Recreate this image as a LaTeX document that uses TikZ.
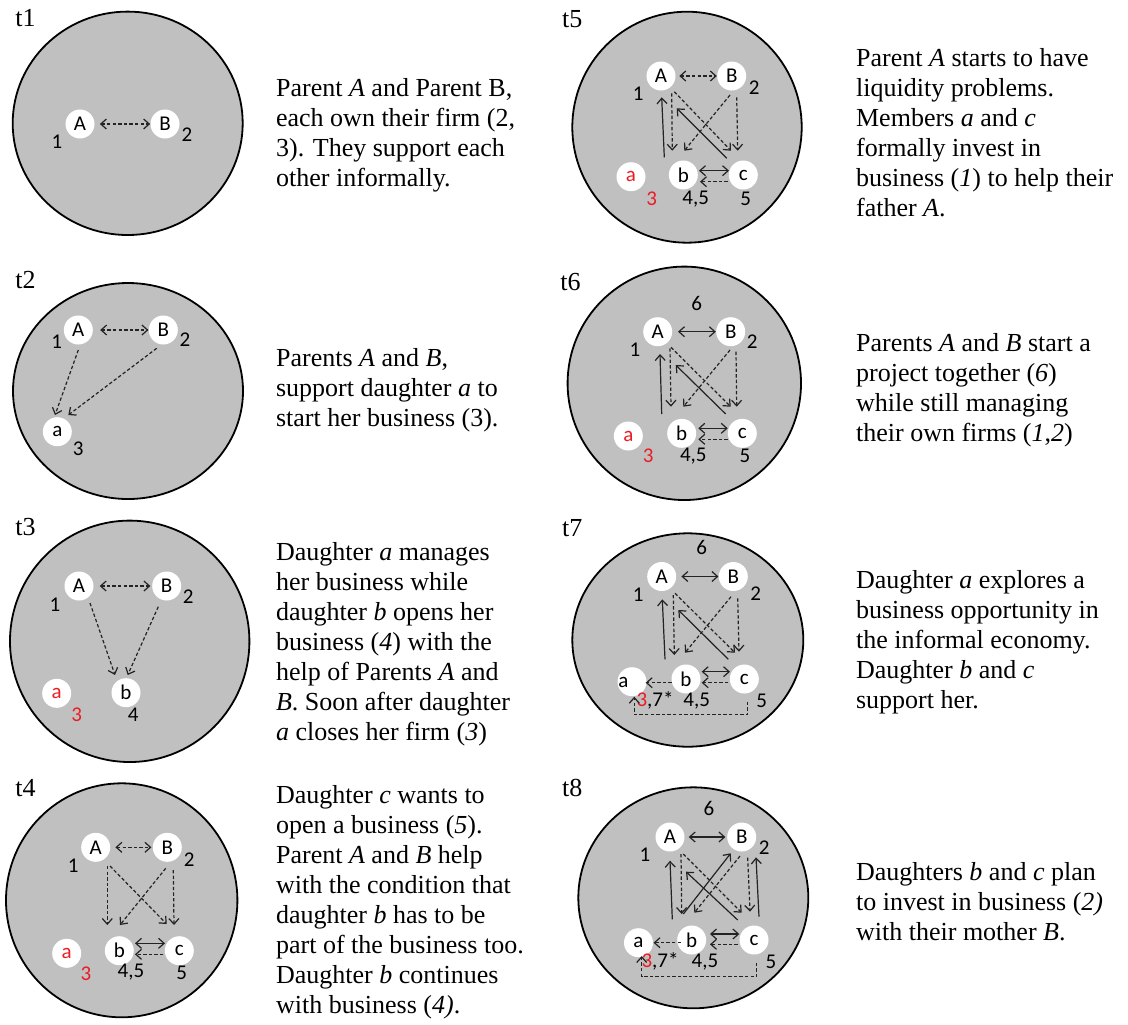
\documentclass[tikz,border=0pt]{standalone}
\usepackage{fontspec}
\setmainfont{Liberation Serif}
\newfontfamily\nodefont{Carlito}
\usetikzlibrary{arrows.meta}

\definecolor{fieldgray}{RGB}{192,192,192}
\definecolor{inkgray}{RGB}{35,35,35}
\definecolor{markred}{RGB}{235,28,36}

\begin{document}
\begin{tikzpicture}[x=0.5pt,y=-0.5pt,
  >={Straight Barb[length=2.8pt,width=5pt]},
  field/.style={draw=black,line width=0.9pt,fill=fieldgray},
  member/.style={circle,fill=white,minimum size=14.5pt,inner sep=0pt,
    font=\nodefont\fontsize{10.5}{12}\selectfont},
  num/.style={inner sep=0pt,font=\nodefont\fontsize{10.5}{12}\selectfont},
  tag/.style={anchor=base west,inner sep=0pt,font=\fontsize{13}{15}\selectfont},
  % multi-line notes are placed by the baseline of their last line
  story/.style={anchor=base west,inner sep=0pt,align=left,
    font=\fontsize{13}{15}\selectfont},
  tie/.style={draw=inkgray,line width=0.6pt},
  informal/.style={tie,dash pattern=on 1.7pt off 1.1pt},
]
\fill[white] (0,0) rectangle (1128,1024);
\useasboundingbox (0,0) rectangle (1128,1024);

% ---------------- t1 ----------------
\node[tag] (tag1) at (15,26.7) {t1};
\draw[field] (127.7,123.3) ellipse [x radius=115, y radius=111.7];
\node[member] (A1) at (80,124) {A};
\node[member] (B1) at (165,124) {B};
\node[num] (n1a) at (57,142) {1};
\node[num] (n1b) at (187,135) {2};
\draw[informal,<->,shorten <=2.5pt] (A1) -- (B1);
\node[story] (s1) at (275.7,186.7) {Parent \textit{A} and Parent B,\\each own their firm (2,\\3). They support each\\other informally.};

% ---------------- t2 ----------------
\node[tag] (tag2) at (15,288.3) {t2};
\draw[field] (128,391) ellipse [x radius=115, y radius=108];
\node[member] (A2) at (78.3,330) {A};
\node[member] (B2) at (163.3,330) {B};
\node[member] (a2) at (57.3,431.7) {a};
\node[num] (n2a) at (56.7,341.7) {1};
\node[num] (n2b) at (185,340) {2};
\node[num] (n2c) at (78.3,448.3) {3};
\draw[informal,<->,shorten <=3.5pt] (A2) -- (B2);
\draw[informal,->] ([shift={(0,20)}]A2.center) -- ([shift={(-2.3,-16.7)}]a2.center);
\draw[informal,->] ([shift={(-6.6,18.3)}]B2.center) -- ([shift={(11,-16.7)}]a2.center);
\node[story] (s2) at (275.7,426.7) {Parents \textit{A} and \textit{B},\\support daughter \textit{a} to\\start her business (3).};

% ---------------- t3 ----------------
\node[tag] (tag3) at (15,535) {t3};
\draw[field] (129.7,641.3) ellipse [x radius=119.7, y radius=120.7];
\node[member] (A3) at (79,586) {A};
\node[member] (B3) at (166.7,586) {B};
\node[member,text=markred] (a3) at (56.7,693.3) {a};
\node[member] (b3) at (126,692.7) {b};
\node[num] (n3a) at (55,605) {1};
\node[num] (n3b) at (188.3,596.7) {2};
\node[num,text=markred] (n3c) at (76.7,715) {3};
\node[num] (n3d) at (133.3,715) {4};
\draw[informal,<->,shorten <=2.9pt,shorten >=0.7pt] (A3) -- (B3);
\draw[informal,->] ([shift={(11,17)}]A3.center) -- ([shift={(-11,-17.7)}]b3.center);
\draw[informal,->] ([shift={(-8.4,20.7)}]B3.center) -- ([shift={(1.7,-17.7)}]b3.center);
\node[story] (s3) at (275.7,740) {Daughter \textit{a} manages\\her business while\\daughter \textit{b} opens her\\business (\textit{4}) with the\\help of Parents \textit{A} and\\\textit{B}. Soon after daughter\\\textit{a} closes her firm (\textit{3})};

% ---------------- t4 ----------------
\node[tag] (tag4) at (15,796.7) {t4};
\draw[field] (121.7,900.3) ellipse [x radius=115.7, y radius=117];
\node[member] (A4) at (95.7,847.3) {A};
\node[member] (B4) at (167.3,847.3) {B};
\node[member,text=markred] (a4) at (66.7,953.3) {a};
\node[member] (b4) at (119.3,950.7) {b};
\node[member] (c4) at (179.3,950.7) {c};
\node[num] (n4a) at (73.3,866) {1};
\node[num] (n4b) at (189.3,860) {2};
\node[num,text=markred] (n4c) at (86,973.3) {3};
\node[num] (n4d) at (131,971.7) {4,5};
\node[num] (n4e) at (181.7,973.3) {5};
\draw[informal,<->,shorten <=2.4pt,shorten >=0.5pt] (A4) -- (B4);
\draw[informal,->] ([shift={(11.6,18.7)}]A4.center) -- ([shift={(-12,-25.7)}]b4.center);
\draw[informal,->] ([shift={(14.3,18.7)}]A4.center) -- ([shift={(-12.6,-26.7)}]c4.center);
\draw[informal,->] ([shift={(-1.6,21)}]B4.center) -- ([shift={(0.7,-25.7)}]b4.center);
\draw[informal,->] ([shift={(6,22.7)}]B4.center) -- ([shift={(-5.3,-25.7)}]c4.center);
\draw[tie,<->] ([shift={(15.7,-7.4)}]b4.center) -- ([shift={(-14.3,-7.4)}]c4.center);
\draw[informal,->] ([shift={(-16,3.6)}]c4.center) -- ([shift={(15.7,3.6)}]b4.center);
\node[story] (s4) at (275.7,1013.3) {Daughter \textit{c} wants to\\open a business (\textit{5}).\\Parent \textit{A} and \textit{B} help\\with the condition that\\daughter \textit{b} has to be\\part of the business too.\\Daughter \textit{b} continues\\with business (\textit{4)}.};

% ---------------- t5 ----------------
\node[tag] (tag5) at (561.7,27.3) {t5};
\draw[field] (687,127.2) ellipse [x radius=114.7, y radius=115.5];
\node[member] (A5) at (661,76) {A};
\node[member] (B5) at (731.7,76) {B};
\node[member,text=markred] (a5) at (631,176.7) {a};
\node[member] (b5) at (683.3,175) {b};
\node[member] (c5) at (743.3,175) {c};
\node[num] (n5a) at (638.3,93.3) {1};
\node[num] (n5b) at (754.3,87.3) {2};
\node[num,text=markred] (n5c) at (651.7,198.3) {3};
\node[num] (n5d) at (695.7,199) {4,5};
\node[num] (n5e) at (745.7,199) {5};
\draw[informal,<->,shorten <=1.7pt] (A5) -- (B5);
\draw[tie,->] ([shift={(33.3,-19.4)}]a5.center) -- ([shift={(0.7,21.3)}]A5.center);
\draw[tie,->] ([shift={(-16.6,-16.7)}]c5.center) -- ([shift={(15.7,32.3)}]A5.center);
\draw[informal,->] ([shift={(10.7,17.3)}]A5.center) -- ([shift={(-11,-24.3)}]b5.center);
\draw[informal,->] ([shift={(13.3,15.7)}]A5.center) -- ([shift={(-12.3,-24.3)}]c5.center);
\draw[informal,->] ([shift={(-1.7,19)}]B5.center) -- ([shift={(1,-24.3)}]b5.center);
\draw[informal,->] ([shift={(5,21.3)}]B5.center) -- ([shift={(-5.6,-24.3)}]c5.center);
\draw[tie,<->] ([shift={(15.7,-4.3)}]b5.center) -- ([shift={(-14.3,-4.3)}]c5.center);
\draw[informal,->] ([shift={(-15.6,6.7)}]c5.center) -- ([shift={(16.7,6.7)}]b5.center);
\node[story] (s5) at (855.7,216.7) {Parent \textit{A} starts to have\\liquidity problems.\\Members \textit{a} and \textit{c}\\formally invest in\\business (\textit{1}) to help their\\father \textit{A}.};

% ---------------- t6 ----------------
\node[tag] (tag6) at (560,290.7) {t6};
\draw[field] (684.3,383.3) ellipse [x radius=116.7, y radius=116.7];
\node[member] (A6) at (657.7,331.7) {A};
\node[member] (B6) at (730.7,331.7) {B};
\node[member,text=markred] (a6) at (628.3,436) {a};
\node[member] (b6) at (681.7,433.3) {b};
\node[member] (c6) at (742.3,433.3) {c};
\node[num] (n6f) at (696.7,303.3) {6};
\node[num] (n6a) at (635,349.3) {1};
\node[num] (n6b) at (752.3,341.7) {2};
\node[num,text=markred] (n6c) at (648.3,456) {3};
\node[num] (n6d) at (693.3,456) {4,5};
\node[num] (n6e) at (745,456) {5};
\draw[tie,<->,shorten <=2.7pt] (A6) -- (B6);
\draw[tie,->] ([shift={(33.4,-22)}]a6.center) -- ([shift={(2.3,22.3)}]A6.center);
\draw[tie,->] ([shift={(-16.6,-19.3)}]c6.center) -- ([shift={(18,33.3)}]A6.center);
\draw[informal,->] ([shift={(12.3,16.6)}]A6.center) -- ([shift={(-10.7,-26.6)}]b6.center);
\draw[informal,->] ([shift={(13.3,15.6)}]A6.center) -- ([shift={(-11.6,-26.6)}]c6.center);
\draw[informal,->] ([shift={(-0.7,18.3)}]B6.center) -- ([shift={(1.6,-26.6)}]b6.center);
\draw[informal,->] ([shift={(5.3,20)}]B6.center) -- ([shift={(-5.6,-26.6)}]c6.center);
\draw[tie,<->] ([shift={(16.6,-5)}]b6.center) -- ([shift={(-14.6,-5)}]c6.center);
\draw[informal,->] ([shift={(-14.6,6)}]c6.center) -- ([shift={(16.6,6)}]b6.center);
\node[story] (s6) at (855.7,441.7) {Parents \textit{A} and \textit{B} start a\\project together (\textit{6})\\while still managing\\their own firms (\textit{1},\textit{2})};

% ---------------- t7 ----------------
\node[tag] (tag7) at (561.7,536) {t7};
\draw[field] (687.8,640) ellipse [x radius=115.5, y radius=106.7];
\node[member] (A7) at (661.7,576.5) {A};
\node[member] (B7) at (733.3,576.5) {B};
\node[member] (a7) at (632,681.7) {};
\node[num] (a7t) at (623.3,682.7) {a};
\node[member] (b7) at (686,679) {b};
\node[member] (c7) at (744.3,679) {c};
\node[num] (n7f) at (701.7,547.3) {6};
\node[num] (n7a) at (638.3,595) {1};
\node[num] (n7b) at (755.7,594) {2};
\node[num] (n7c) at (655,700.7) {{\color{markred}3},7*};
\node[num] (n7d) at (696.7,700.7) {4,5};
\node[num] (n7e) at (761.7,700.7) {5};
\draw[tie,<->,shorten <=2.4pt] (A7) -- (B7);
\draw[tie,->] ([shift={(33,-22.4)}]a7.center) -- ([shift={(0.6,22.8)}]A7.center);
\draw[tie,->] ([shift={(-16,-19.7)}]c7.center) -- ([shift={(16.6,33.5)}]A7.center);
\draw[informal,->] ([shift={(11.6,18.5)}]A7.center) -- ([shift={(-11.7,-24)}]b7.center);
\draw[informal,->] ([shift={(13.3,16.8)}]A7.center) -- ([shift={(-9.3,-26.3)}]c7.center);
\draw[informal,->] ([shift={(-2.3,20.2)}]B7.center) -- ([shift={(-1,-26.3)}]b7.center);
\draw[informal,->] ([shift={(4.4,21.8)}]B7.center) -- ([shift={(-5.3,-27.3)}]c7.center);
\draw[tie,<->] ([shift={(15.7,-7.3)}]b7.center) -- ([shift={(-14.3,-7.3)}]c7.center);
\draw[informal,->] ([shift={(-16,3.7)}]c7.center) -- ([shift={(15.7,3.7)}]b7.center);
\draw[informal,->] ([shift={(-14.3,3.7)}]b7.center) -- ([shift={(13.7,1)}]a7.center);
\draw[informal,->] ([shift={(3.4,22.7)}]c7.center) -- ++(0,12.6) -| ([shift={(2.3,15)}]a7.center);
\node[story] (s7) at (855.7,708.3) {Daughter \textit{a} explores a\\business opportunity in\\the informal economy.\\Daughter \textit{b} and \textit{c}\\support her.};

% ---------------- t8 ----------------
\node[tag] (tag8) at (561.7,796) {t8};
\draw[field] (693.3,897.8) ellipse [x radius=115, y radius=110.5];
\node[member] (A8) at (670,837) {A};
\node[member] (B8) at (741.7,837) {B};
\node[member] (a8) at (638.5,942.7) {a};
\node[member] (b8) at (691.7,940) {b};
\node[member] (c8) at (754,940) {c};
\node[num] (n8f) at (709,808.3) {6};
\node[num] (n8a) at (645,855) {1};
\node[num] (n8b) at (764.3,847.3) {2};
\node[num] (n8c) at (660,961.7) {{\color{markred}3},7*};
\node[num] (n8d) at (705,961.7) {4,5};
\node[num] (n8e) at (771,961.7) {5};
\draw[tie,<->,shorten <=1.9pt,shorten >=0.7pt] (A8) -- (B8);
\draw[tie,->] ([shift={(33.8,-23.4)}]a8.center) -- ([shift={(0,23.7)}]A8.center);
\draw[tie,->] ([shift={(-16.3,-20)}]c8.center) -- ([shift={(16,34.7)}]A8.center);
\draw[tie,->] ([shift={(-8.4,-26)}]b8.center) -- ([shift={(-11,16.3)}]B8.center);
\draw[tie,->] ([shift={(5,-23.3)}]c8.center) -- ([shift={(14.3,20.3)}]B8.center);
\draw[informal,->] ([shift={(11,17)}]A8.center) -- ([shift={(-10,-26)}]b8.center);
\draw[informal,->] ([shift={(13.3,17)}]A8.center) -- ([shift={(-12.3,-27.3)}]c8.center);
\draw[informal,->] ([shift={(-1.7,19)}]B8.center) -- ([shift={(2.6,-27.3)}]b8.center);
\draw[informal,->] ([shift={(6,20.7)}]B8.center) -- ([shift={(-4,-28.3)}]c8.center);
\draw[tie,<->] ([shift={(18.3,-6)}]b8.center) -- ([shift={(-14.7,-6)}]c8.center);
\draw[informal,->] ([shift={(-16.3,4.3)}]c8.center) -- ([shift={(18.3,4.3)}]b8.center);
\draw[informal,->] ([shift={(-10.7,2.7)}]b8.center) -- ([shift={(15,0)}]a8.center);
\draw[informal,->] ([shift={(2.7,22.7)}]c8.center) -- ++(0,14) -| ([shift={(3.2,13.3)}]a8.center);
\node[story] (s8) at (855.7,940) {Daughters \textit{b} and \textit{c} plan\\to invest in business (\textit{2)}\\with their mother \textit{B}.};
\end{tikzpicture}
\end{document}
